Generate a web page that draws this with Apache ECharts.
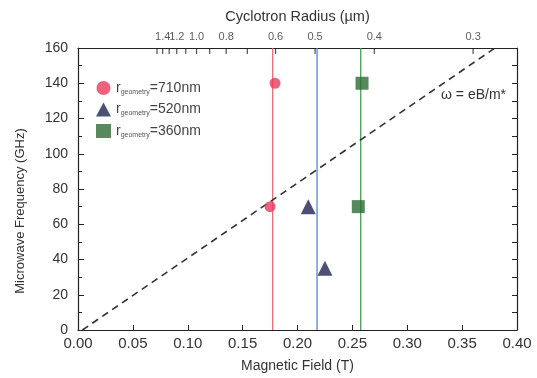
<!DOCTYPE html>
<html>
<head>
<meta charset="utf-8">
<script src="https://cdn.jsdelivr.net/npm/echarts@6/dist/echarts.min.js"></script>
<style>
  html, body { margin: 0; padding: 0; background: #fff; }
  #chart { width: 537px; height: 378px; }
</style>
</head>
<body>
<div id="chart"></div>
<script>
// data
var circle710 = [[0.175, 70], [0.1795, 140]];
var triangle520 = [[0.2098, 70], [0.225, 35]];
var square360 = [[0.2554, 70], [0.2588, 140]];
var resonanceB = [0.1774, 0.2178, 0.2576]; // vertical lines (T)
var dashedFit = [[0.004, 0], [0.38, 160]]; // omega = eB/m*
var legendLabels = ['=710nm', '=520nm', '=360nm'];
// top axis: cyclotron radius r = RB / B
var RB = 0.108;
var radiusTicks = [1.5, 1.4, 1.3, 1.2, 1.1, 1.0, 0.9, 0.8, 0.7, 0.6, 0.5, 0.4, 0.3];
var radiusLabels = [1.4, 1.2, 1.0, 0.8, 0.6, 0.5, 0.4, 0.3];

var font = 'Liberation Sans, Arial, sans-serif';
var lineColors = ['#e36c7a', '#5a85c9', '#4c9a57'];

function vline(x, c) {
  return {
    type: 'line', data: [[x, 0], [x, 160]], symbol: 'none', silent: true,
    lineStyle: { color: c, width: 1.3 }, z: 1
  };
}

var chart = echarts.init(document.getElementById('chart'));
var option = {
  animation: false,
  textStyle: { fontFamily: font },
  grid: { left: 78, right: 20, top: 48, bottom: 47 },
  legend: {
    orient: 'vertical', left: 91, top: 76, itemGap: 7,
    itemWidth: 15, itemHeight: 14,
    data: ['r710', 'r520', 'r360'],
    formatter: function (name) {
      var i = ['r710', 'r520', 'r360'].indexOf(name);
      return '{r|r}{s|geometry}{v|' + legendLabels[i] + '}';
    },
    textStyle: {
      rich: {
        r: { fontSize: 14, color: '#444', fontFamily: font },
        s: { fontSize: 7, color: '#555', fontFamily: font, padding: [8, 0, 0, 0] },
        v: { fontSize: 14, color: '#444', fontFamily: font }
      }
    }
  },
  xAxis: [{
    type: 'value', min: 0, max: 0.4, interval: 0.05,
    name: 'Magnetic Field (T)', nameLocation: 'middle', nameGap: 29,
    nameTextStyle: { fontSize: 14, color: '#333' },
    axisLine: { onZero: false, lineStyle: { color: '#222', width: 1.2 } },
    axisTick: { inside: true, length: 5, lineStyle: { color: '#222' } },
    axisLabel: { fontSize: 15, color: '#333', margin: 6,
      formatter: function (v) { return v.toFixed(2); } },
    splitLine: { show: false }
  }, {
    type: 'value', min: 0, max: 0.4, position: 'top',
    name: 'Cyclotron Radius (\u00b5m)', nameLocation: 'middle', nameGap: 24,
    nameTextStyle: { fontSize: 14.5, color: '#333' },
    axisLine: { onZero: false, lineStyle: { color: '#222', width: 1.2 } },
    axisTick: { show: false },
    axisLabel: { show: false },
    splitLine: { show: false }
  }],
  yAxis: [{
    type: 'value', min: 0, max: 160, interval: 20,
    axisLine: { onZero: false, lineStyle: { color: '#222', width: 1.2 } },
    axisTick: { inside: true, length: 6, lineStyle: { color: '#222' } },
    minorTick: { show: true, splitNumber: 2, length: 4, lineStyle: { color: '#222' } },
    axisLabel: { fontSize: 14, color: '#333', margin: 10 },
    splitLine: { show: false }
  }, {
    type: 'value', min: 0, max: 160, interval: 20, position: 'right',
    axisLine: { show: true, onZero: false, lineStyle: { color: '#222', width: 1.2 } },
    axisTick: { show: true, inside: true, length: 5, lineStyle: { color: '#222' } },
    minorTick: { show: true, splitNumber: 2, length: 5, lineStyle: { color: '#222' } },
    axisLabel: { show: false },
    splitLine: { show: false }
  }],
  graphic: [{
    type: 'text', left: 441, top: 88,
    style: { text: '\u03c9 = eB/m*', fontSize: 14, fill: '#333', fontFamily: font }
  }, {
    type: 'text', x: 20, y: 211, rotation: Math.PI / 2,
    style: { text: 'Microwave Frequency (GHz)', fontSize: 13, fill: '#333', fontFamily: font,
      align: 'center', verticalAlign: 'middle' }
  }],
  series: [
    vline(resonanceB[0], lineColors[0]),
    vline(resonanceB[1], lineColors[1]),
    vline(resonanceB[2], lineColors[2]),
    {
      type: 'line', data: dashedFit, symbol: 'none', silent: true,
      lineStyle: { color: '#333', width: 1.6, type: [7, 5] }, z: 2
    },
    // top axis ticks (radius scale)
    {
      type: 'scatter', xAxisIndex: 1, silent: true, clip: false,
      data: radiusTicks.map(function (r) { return [RB / r, 160]; }),
      symbol: 'rect', symbolSize: [1.2, 6], symbolOffset: [0, 3],
      itemStyle: { color: '#222' }, z: 3
    },
    // top axis labels (the two crowded ones sit a little left, as in the original)
    {
      type: 'scatter', xAxisIndex: 1, silent: true, clip: false,
      data: radiusLabels.map(function (r) {
        return { value: [RB / r, 160, r], label: { offset: [r > 1.1 ? -7 : 0, 0] } };
      }),
      symbolSize: 1, itemStyle: { color: 'transparent' },
      label: {
        show: true, position: 'top', distance: 5,
        fontSize: 11, color: '#333', fontFamily: font,
        formatter: function (p) { return p.value[2].toFixed(1); }
      },
      labelLayout: { hideOverlap: false }, z: 3
    },
    { name: 'r710', type: 'scatter', data: circle710, symbol: 'circle', symbolSize: 11,
      itemStyle: { color: '#e83a5c' }, z: 5 },
    { name: 'r520', type: 'scatter', data: triangle520, symbol: 'triangle', symbolSize: 15,
      itemStyle: { color: '#1f2452' }, z: 5 },
    { name: 'r360', type: 'scatter', data: square360, symbol: 'rect', symbolSize: 13,
      itemStyle: { color: '#2e6b36' }, z: 5 }
  ]
};
chart.setOption(option);
</script>
</body>
</html>
